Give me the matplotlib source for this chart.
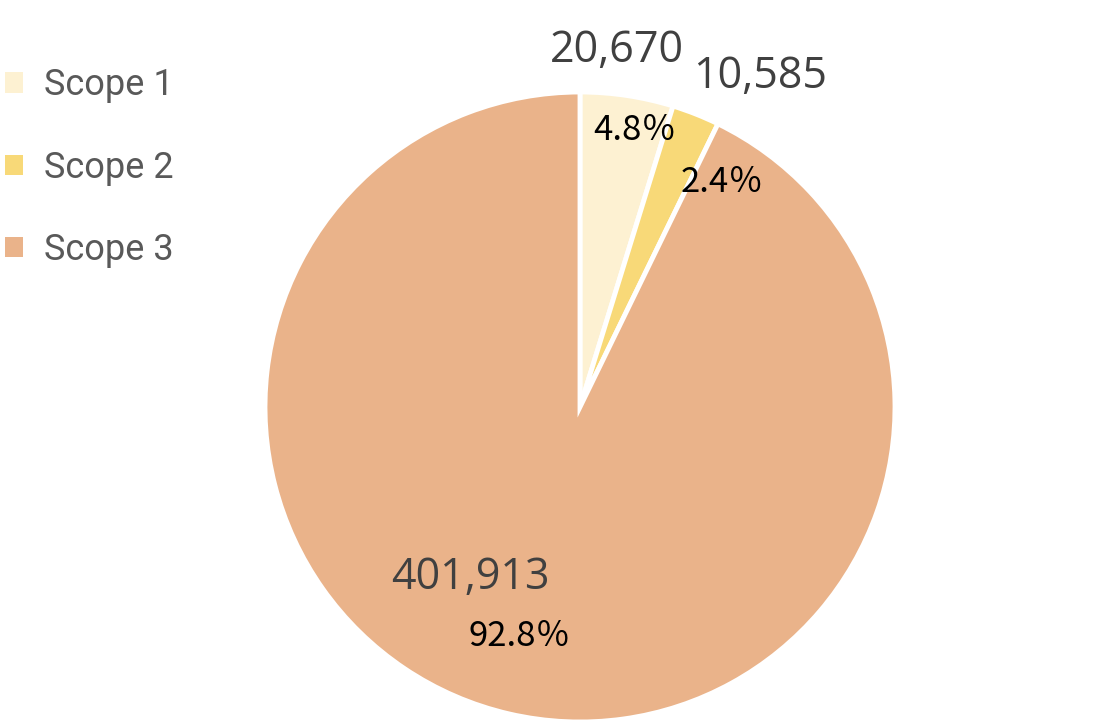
import matplotlib.pyplot as plt
import matplotlib.patches as mpatches

scopes = ['Scope 1', 'Scope 2', 'Scope 3']
emissions = [20670, 10585, 401913]
shares = [4.8, 2.4, 92.8]
colors = ['#FDF1D2', '#F8D978', '#EAB38A']

W, H = 1120, 727
fig = plt.figure(figsize=(W / 100, H / 100), dpi=100)
ax = fig.add_axes([0, 0, 1, 1])

cx, cy, r = 580, H - 407, 315
ax.pie(emissions, colors=colors, startangle=90, counterclock=False,
       center=(cx, cy), radius=r,
       wedgeprops={'edgecolor': 'white', 'linewidth': 3.5})
ax.set_aspect('equal')
ax.set_xlim(0, W)
ax.set_ylim(0, H)
ax.axis('off')

# label offsets from the pie centre (pixels): value label, percent label
val_pos = [(37, 356), (180, 330), (-110, -171)]
pct_pos = [(55, 277), (142, 225), (-60, -229)]

for v, p, vp, pp in zip(emissions, shares, val_pos, pct_pos):
    ax.text(cx + vp[0], cy + vp[1], f'{v:,}', ha='center', va='center',
            fontsize=31, color='#404040', family=['Open Sans', 'DejaVu Sans'])
    ax.text(cx + pp[0], cy + pp[1], f'{p}％', ha='center', va='center',
            fontsize=25, color='black',
            family=['Noto Sans CJK JP', 'DejaVu Sans'])

handles = [mpatches.Patch(facecolor=c, edgecolor='none') for c in colors]
leg = fig.legend(handles, scopes, loc='upper left', bbox_to_anchor=(-0.0245, 0.952),
                 frameon=False, handlelength=0.5, handleheight=0.5,
                 handletextpad=0.58, labelspacing=1.28,
                 prop={'family': 'Roboto', 'size': 26})
for t in leg.get_texts():
    t.set_color('#595959')

fig.savefig('out.png', dpi=100)
